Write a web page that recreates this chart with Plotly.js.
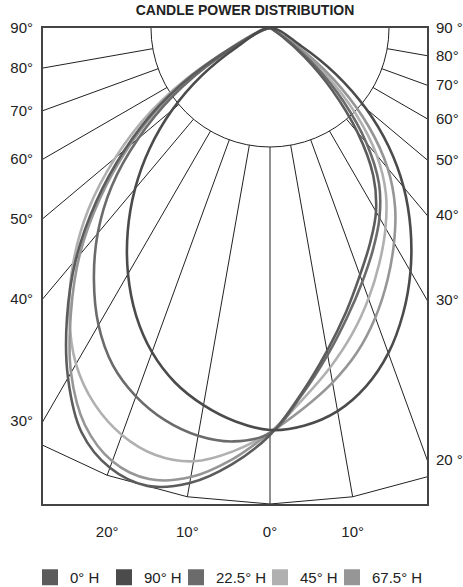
<!DOCTYPE html>
<html><head><meta charset="utf-8">
<script src="https://cdn.plot.ly/plotly-3.0.1.min.js"></script>
<style>html,body{margin:0;padding:0;background:#fff}#chart{width:463px;height:587px}</style>
</head><body><div id="chart"></div>
<script>
// ---- data: candle power (radius, chart units) at vertical angle from nadir (deg, negative = left)
const angles = [-65,-60,-55,-50,-45,-40,-35,-30,-25,-20,-15,-10,-5,0,5,10,15,20,25,30,35,40,45,50,55,60,65];
const cp0H   = [0,75,135,190,246,302,354,404,446,468,474,462,438,407,366,328,294,263,237,212,180,136,88,45,15,3,0];
const cp22H  = [0,60,118,172,224,268,307,343,372,392,406,414,415,405,368,332,299,270,244,219,190,150,104,60,23,5,0];
const cp45H  = [0,80,145,202,257,306,350,388,415,433,442,440,425,404,373,345,317,288,259,231,202,166,121,74,30,6,0];
const cp67H  = [0,72,130,184,240,296,347,398,438,461,467,456,433,405,382,360,336,308,278,248,218,183,140,92,45,10,0];
const cp90H  = [0,38,84,128,170,210,248,284,317,345,367,383,395,402,399,389,371,346,315,281,245,208,168,125,80,36,0];

const seriesNames  = ['0° H','90° H','22.5° H','45° H','67.5° H'];
const seriesValues = [cp0H, cp90H, cp22H, cp45H, cp67H];
const seriesColors = ['#5c5c5c','#4b4b4b','#6b6b6b','#b0b0b0','#969696'];
const drawOrder    = [3,4,2,0,1];
const legendWidths = [29,27,39,27,52];

// ---- grid
const gridAngles    = [-80,-70,-60,-50,-40,-30,-20,-10,0,10,20,30,40,50,60,70,80];
const polygonAngles = [-90,-80,-70,-60,-50,-40,-30,-20,-10,0,10,20,30,40,50,60,70,80,90];
const ringInner = 119, ringOuter = 476;
const leftTickAngles   = [90,80,70,60,50,40,30];
const leftTickText     = ['90°','80°','70°','60°','50°','40°','30°'];
const rightTickAngles  = [90,80,70,60,50,40,30,20];
const rightTickText    = ['90 °','80°','70°','60°','50°','40°','30°','20 °'];
const bottomTickAngles = [-20,-10,0,10];
const bottomTickText   = ['20°','10°','0°','10°'];

const X_LEFT = -227, X_RIGHT = 157, Y_BOTTOM = -476;
const rad = d => d*Math.PI/180;
const px = (r,a) => r*Math.sin(rad(a));
const py = (r,a) => -r*Math.cos(rad(a));

const traces = [];
// radial lines
const gx=[], gy=[];
gridAngles.forEach(a=>{gx.push(px(ringInner,a),px(ringOuter,a),null);gy.push(py(ringInner,a),py(ringOuter,a),null);});
traces.push({x:gx,y:gy,mode:'lines',line:{color:'#222',width:1},hoverinfo:'skip',showlegend:false,xaxis:'x',yaxis:'y'});
// outer polygon
traces.push({x:polygonAngles.map(a=>px(ringOuter,a)),y:polygonAngles.map(a=>py(ringOuter,a)),mode:'lines',line:{color:'#222',width:1},hoverinfo:'skip',showlegend:false,xaxis:'x',yaxis:'y'});

// curves
drawOrder.forEach(i=>{
  const v = seriesValues[i];
  traces.push({x:v.map((r,k)=>px(r,angles[k])),y:v.map((r,k)=>py(r,angles[k])),mode:'lines',
    line:{color:seriesColors[i],width:2.6,shape:'spline',smoothing:1},hoverinfo:'skip',showlegend:false,
    legendgroup:'g'+i,xaxis:'x',yaxis:'y2'});
});
// legend entries
seriesNames.forEach((n,i)=>{
  traces.push({x:[null],y:[null],mode:'markers',name:n,legendgroup:'g'+i,legendwidth:legendWidths[i],
    marker:{symbol:'square',size:16,color:seriesColors[i],line:{width:0}},xaxis:'x',yaxis:'y2',hoverinfo:'skip'});
});

const axisCommon = {showgrid:false,zeroline:false,fixedrange:true,ticks:'outside',tickcolor:'rgba(0,0,0,0)',tickfont:{size:15,color:'#222'}};
const layout = {
  width:463,height:587,
  margin:{l:43,r:36,t:28,b:83,autoexpand:false},
  paper_bgcolor:'#fff',plot_bgcolor:'#fff',
  font:{family:'"Liberation Sans", Arial, sans-serif',size:15,color:'#222'},
  title:{text:'<b>CANDLE POWER DISTRIBUTION</b>',font:{size:14,color:'#222'},xref:'container',x:245/463,xanchor:'center',yref:'container',y:1-10/587,yanchor:'middle'},
  xaxis:Object.assign({},axisCommon,{range:[X_LEFT,X_RIGHT],showline:true,mirror:true,linecolor:'#444',linewidth:2,
    tickvals:bottomTickAngles.map(a=>px(ringOuter,a)),ticktext:bottomTickText,ticklen:13}),
  yaxis:Object.assign({},axisCommon,{range:[Y_BOTTOM,0],showline:true,mirror:true,linecolor:'#444',linewidth:2,
    tickvals:leftTickAngles.map(a=>X_LEFT/Math.tan(rad(a))),ticktext:leftTickText,ticklen:5}),
  yaxis2:Object.assign({},axisCommon,{range:[Y_BOTTOM,0],overlaying:'y',side:'right',showline:false,
    tickvals:rightTickAngles.map(a=>-X_RIGHT/Math.tan(rad(a))),ticktext:rightTickText,ticklen:5}),
  shapes:[{type:'circle',xref:'x',yref:'y',x0:-ringInner,y0:-ringInner,x1:ringInner,y1:ringInner,line:{color:'#222',width:1},layer:'below'}],
  showlegend:true,
  legend:{orientation:'h',x:(30-43)/384,xanchor:'left',y:-(561-504)/476,yanchor:'top',font:{size:15,color:'#222'},
    itemclick:false,itemdoubleclick:false,traceorder:'normal',bgcolor:'rgba(0,0,0,0)'}
};
Plotly.newPlot('chart',traces,layout,{displayModeBar:false,staticPlot:true});
</script></body></html>
